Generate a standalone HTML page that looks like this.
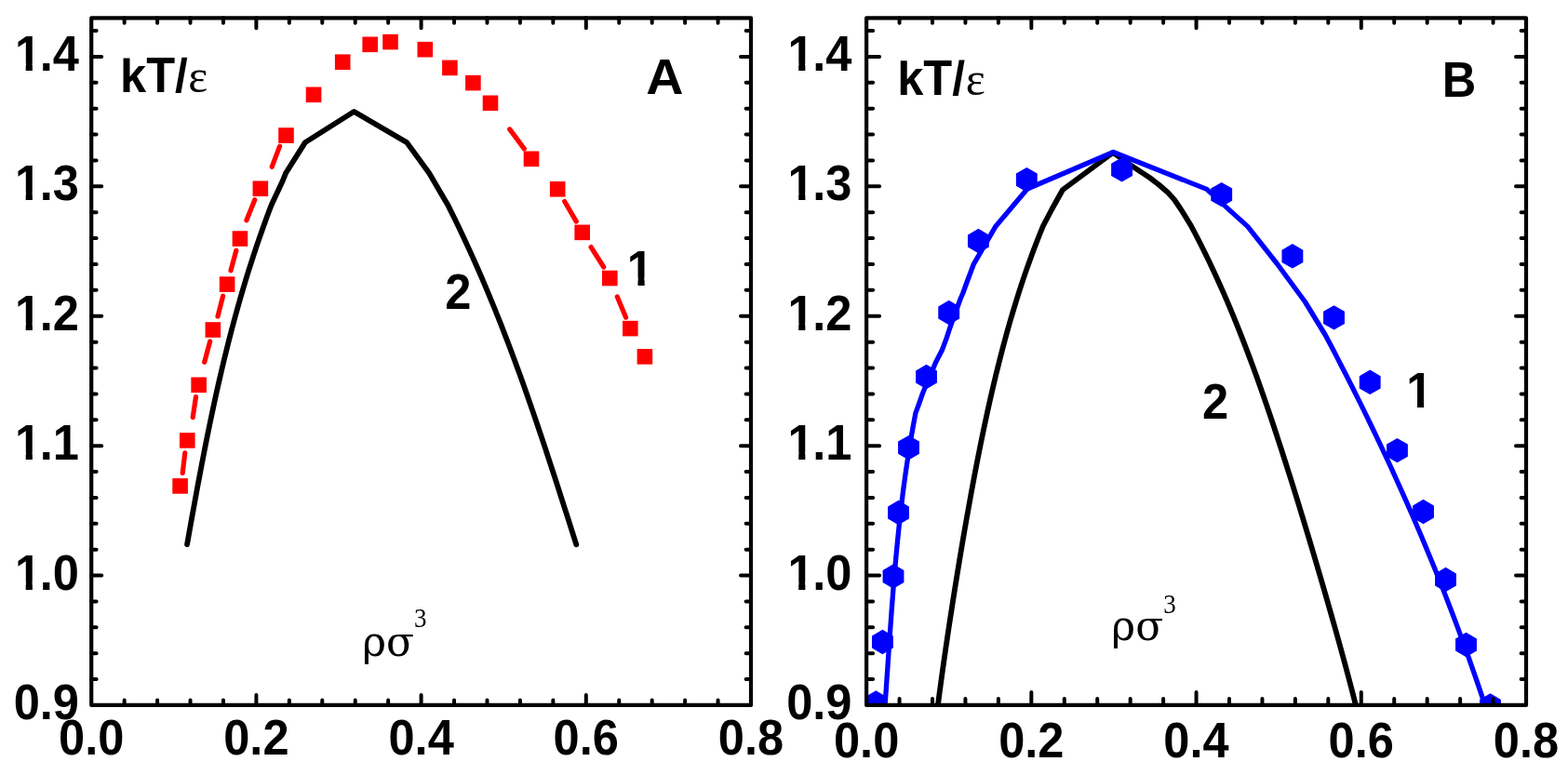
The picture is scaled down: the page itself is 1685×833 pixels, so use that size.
<!DOCTYPE html>
<html><head><meta charset="utf-8"><title>Phase diagrams</title>
<style>html,body{margin:0;padding:0;background:#fff;width:1685px;height:833px;overflow:hidden}svg{display:block}</style>
</head><body>
<svg width="1685" height="833" viewBox="0 0 1685 833">
<defs>
<clipPath id="ca"><rect x="98.2" y="19.35" width="708.8" height="738.6"/></clipPath>
<clipPath id="cb"><rect x="931.1" y="19.35" width="708.9" height="738.6"/></clipPath>
<clipPath id="c1l"><path clip-rule="evenodd" d="M-200 -200H400V200H-200ZM2.9 -8H13.65V2H2.9ZM21.15 -8H31.4V2H21.15Z"/></clipPath>
<clipPath id="c1"><path clip-rule="evenodd" d="M-200 -200H400V200H-200ZM1.5 -8H12.25V2H1.5ZM19.75 -8H30V2H19.75Z"/></clipPath>
<clipPath id="ck"><path clip-rule="evenodd" d="M-200 -200H400V200H-200ZM-5 -70H29.6V-36.6H-5ZM61.8 -70H90V-37.3H61.8Z"/></clipPath>
</defs>
<rect width="1685" height="833" fill="#fff"/>
<g clip-path="url(#ca)">
<path d="M201.04 585.2 L202.46 577.25 L203.88 569.3 L205.31 561.34 L206.75 553.39 L208.19 545.44 L209.64 537.49 L211.1 529.53 L212.58 521.58 L214.07 513.63 L215.57 505.68 L217.09 497.73 L218.63 489.77 L220.18 481.82 L221.76 473.87 L223.36 465.92 L224.98 457.97 L226.63 450.01 L228.31 442.06 L230.01 434.11 L231.74 426.16 L233.51 418.2 L235.3 410.25 L237.13 402.3 L239 394.35 L240.9 386.4 L242.85 378.44 L244.83 370.49 L246.85 362.54 L248.92 354.59 L251.03 346.63 L253.18 338.68 L255.39 330.73 L257.64 322.78 L259.94 314.83 L262.3 306.87 L264.7 298.92 L267.16 290.97 L269.68 283.02 L272.26 275.07 L274.89 267.11 L277.59 259.16 L280.35 251.21 L283.17 243.26 L286.05 235.3 L289.01 227.35 L292.03 219.4 L303.5 195 L307 186.3 L327.9 153.1 L380.5 119.9 L437 152.9 L461.3 186.3 L463.5 190 L478.1 215 L480.8 219.4 L484.78 227.35 L488.69 235.31 L492.55 243.26 L496.34 251.22 L500.06 259.17 L503.73 267.13 L507.35 275.08 L510.9 283.03 L514.4 290.99 L517.85 298.94 L521.24 306.9 L524.59 314.85 L527.89 322.81 L531.14 330.76 L534.34 338.72 L537.5 346.67 L540.62 354.62 L543.7 362.58 L546.73 370.53 L549.73 378.49 L552.7 386.44 L555.62 394.4 L558.52 402.35 L561.38 410.3 L564.21 418.26 L567.01 426.21 L569.79 434.17 L572.54 442.12 L575.26 450.08 L577.96 458.03 L580.64 465.98 L583.3 473.94 L585.95 481.89 L588.57 489.85 L591.18 497.8 L593.78 505.76 L596.36 513.71 L598.94 521.67 L601.5 529.62 L604.06 537.57 L606.61 545.53 L609.15 553.48 L611.69 561.44 L614.23 569.39 L616.77 577.35 L619.32 585.3" fill="none" stroke="#000" stroke-width="5.8" stroke-linejoin="round" stroke-linecap="round"/>
<path d="M196.2 508.5L198.8 486.8M207.2 448.6L210.5 426.5M219.7 389.2L225.7 366.9M234 340.1L239.6 318.2M248 290.8L253.8 269.3M264.9 236.8L273.8 214.8M292.2 179.3L300.6 157.2M547.7 138.9L563.3 159.9M606.7 216.5L619.3 238.1M635.1 265.6L648.7 287M663.3 319L672.6 341.2" fill="none" stroke="#f00" stroke-width="5.2" stroke-linecap="round"/>
<g fill="#f00"><rect x="185.3" y="514.1" width="16.6" height="16.6"/><rect x="192.95" y="465.1" width="16.6" height="16.6"/><rect x="205.35" y="405.45" width="16.6" height="16.6"/><rect x="220.55" y="346.2" width="16.6" height="16.6"/><rect x="235.8" y="297.3" width="16.6" height="16.6"/><rect x="249.65" y="248.25" width="16.6" height="16.6"/><rect x="271.55" y="194.45" width="16.6" height="16.6"/><rect x="299.2" y="137.25" width="16.6" height="16.6"/><rect x="328.75" y="93.5" width="16.6" height="16.6"/><rect x="359.9" y="58.4" width="16.6" height="16.6"/><rect x="389.4" y="39.5" width="16.6" height="16.6"/><rect x="411.2" y="36.8" width="16.6" height="16.6"/><rect x="448.5" y="44.9" width="16.6" height="16.6"/><rect x="475.1" y="64.6" width="16.6" height="16.6"/><rect x="500.1" y="80.8" width="16.6" height="16.6"/><rect x="518.7" y="102.5" width="16.6" height="16.6"/><rect x="562.7" y="162.5" width="16.6" height="16.6"/><rect x="590.9" y="195" width="16.6" height="16.6"/><rect x="617.4" y="241.55" width="16.6" height="16.6"/><rect x="647" y="290.7" width="16.6" height="16.6"/><rect x="669" y="344.8" width="16.6" height="16.6"/><rect x="684.6" y="375" width="16.6" height="16.6"/></g>
</g>
<rect x="98.2" y="19.35" width="708.8" height="738.6" fill="none" stroke="#000" stroke-width="4.2" stroke-linejoin="round"/>
<path d="M133.64 757.95V752.55M133.64 19.35V24.75M169.08 757.95V752.55M169.08 19.35V24.75M204.52 757.95V752.55M204.52 19.35V24.75M239.96 757.95V752.55M239.96 19.35V24.75M275.4 757.95V746.95M275.4 19.35V30.35M310.84 757.95V752.55M310.84 19.35V24.75M346.28 757.95V752.55M346.28 19.35V24.75M381.72 757.95V752.55M381.72 19.35V24.75M417.16 757.95V752.55M417.16 19.35V24.75M452.6 757.95V746.95M452.6 19.35V30.35M488.04 757.95V752.55M488.04 19.35V24.75M523.48 757.95V752.55M523.48 19.35V24.75M558.92 757.95V752.55M558.92 19.35V24.75M594.36 757.95V752.55M594.36 19.35V24.75M629.8 757.95V746.95M629.8 19.35V30.35M665.24 757.95V752.55M665.24 19.35V24.75M700.68 757.95V752.55M700.68 19.35V24.75M736.12 757.95V752.55M736.12 19.35V24.75M771.56 757.95V752.55M771.56 19.35V24.75M98.2 730.07H103.6M807 730.07H801.6M98.2 702.19H103.6M807 702.19H801.6M98.2 674.31H103.6M807 674.31H801.6M98.2 646.43H103.6M807 646.43H801.6M98.2 618.55H109.2M807 618.55H796M98.2 590.67H103.6M807 590.67H801.6M98.2 562.79H103.6M807 562.79H801.6M98.2 534.91H103.6M807 534.91H801.6M98.2 507.03H103.6M807 507.03H801.6M98.2 479.15H109.2M807 479.15H796M98.2 451.27H103.6M807 451.27H801.6M98.2 423.39H103.6M807 423.39H801.6M98.2 395.51H103.6M807 395.51H801.6M98.2 367.63H103.6M807 367.63H801.6M98.2 339.75H109.2M807 339.75H796M98.2 311.87H103.6M807 311.87H801.6M98.2 283.99H103.6M807 283.99H801.6M98.2 256.11H103.6M807 256.11H801.6M98.2 228.23H103.6M807 228.23H801.6M98.2 200.35H109.2M807 200.35H796M98.2 172.47H103.6M807 172.47H801.6M98.2 144.59H103.6M807 144.59H801.6M98.2 116.71H103.6M807 116.71H801.6M98.2 88.83H103.6M807 88.83H801.6M98.2 60.95H109.2M807 60.95H796M98.2 33.07H103.6M807 33.07H801.6" fill="none" stroke="#000" stroke-width="4" stroke-linecap="round"/>
<g font-family="Liberation Sans, Arial, sans-serif" font-weight="bold" font-size="53"><text transform="translate(98.2,810.6) scale(0.955,1)" text-anchor="middle">0.0</text>
<text transform="translate(275.4,810.6) scale(0.955,1)" text-anchor="middle">0.2</text>
<text transform="translate(452.6,810.6) scale(0.955,1)" text-anchor="middle">0.4</text>
<text transform="translate(629.8,810.6) scale(0.955,1)" text-anchor="middle">0.6</text>
<text transform="translate(807,810.6) scale(0.955,1)" text-anchor="middle">0.8</text>
<text transform="translate(14.65,772.95) scale(0.955,1)">0.9</text>
<text transform="translate(14.65,633.55) scale(0.955,1)" clip-path="url(#c1l)"><tspan dx="1.4">1</tspan><tspan dx="-1.4">.0</tspan></text>
<text transform="translate(14.65,494.15) scale(0.955,1)" clip-path="url(#c1l)"><tspan dx="1.4">1</tspan><tspan dx="-1.4">.1</tspan></text>
<text transform="translate(14.65,354.75) scale(0.955,1)" clip-path="url(#c1l)"><tspan dx="1.4">1</tspan><tspan dx="-1.4">.2</tspan></text>
<text transform="translate(14.65,215.35) scale(0.955,1)" clip-path="url(#c1l)"><tspan dx="1.4">1</tspan><tspan dx="-1.4">.3</tspan></text>
<text transform="translate(14.65,75.95) scale(0.955,1)" clip-path="url(#c1l)"><tspan dx="1.4">1</tspan><tspan dx="-1.4">.4</tspan></text></g>
<g clip-path="url(#cb)">
<path d="M1007.35 762 L1008.39 754.02 L1009.44 746.03 L1010.52 738.05 L1011.61 730.06 L1012.72 722.08 L1013.85 714.09 L1014.99 706.11 L1016.14 698.12 L1017.32 690.14 L1018.5 682.15 L1019.7 674.17 L1020.91 666.18 L1022.14 658.2 L1023.38 650.22 L1024.63 642.23 L1025.9 634.25 L1027.17 626.26 L1028.46 618.28 L1029.77 610.29 L1031.08 602.31 L1032.41 594.32 L1033.76 586.34 L1035.11 578.35 L1036.49 570.37 L1037.87 562.38 L1039.28 554.4 L1040.7 546.42 L1042.14 538.43 L1043.59 530.45 L1045.07 522.46 L1046.56 514.48 L1048.08 506.49 L1049.62 498.51 L1051.18 490.52 L1052.77 482.54 L1054.38 474.55 L1056.02 466.57 L1057.69 458.58 L1059.39 450.6 L1061.12 442.62 L1062.89 434.63 L1064.69 426.65 L1066.53 418.66 L1068.4 410.68 L1070.32 402.69 L1072.28 394.71 L1074.29 386.72 L1076.34 378.74 L1078.44 370.75 L1080.6 362.77 L1082.8 354.78 L1085.07 346.8 L1087.39 338.82 L1089.78 330.83 L1092.23 322.85 L1094.74 314.86 L1097.33 306.88 L1099.98 298.89 L1102.72 290.91 L1105.53 282.92 L1108.42 274.94 L1111.4 266.95 L1114.46 258.97 L1117.62 250.98 L1120.87 243 L1130.3 225 L1142 204 L1196 164 L1217.4 179 L1225 184.1 L1235 190.6 L1245 198.2 L1255 206.9 L1262 214.6 L1270.3 227 L1279.81 242.5 L1284.05 250.49 L1288.18 258.48 L1292.23 266.48 L1296.17 274.47 L1300.03 282.46 L1303.8 290.45 L1307.49 298.45 L1311.1 306.44 L1314.64 314.43 L1318.1 322.42 L1321.49 330.42 L1324.82 338.41 L1328.09 346.4 L1331.3 354.39 L1334.45 362.38 L1337.55 370.38 L1340.6 378.37 L1343.6 386.36 L1346.55 394.35 L1349.46 402.35 L1352.33 410.34 L1355.16 418.33 L1357.96 426.32 L1360.72 434.32 L1363.45 442.31 L1366.15 450.3 L1368.82 458.29 L1371.47 466.28 L1374.09 474.28 L1376.69 482.27 L1379.26 490.26 L1381.82 498.25 L1384.35 506.25 L1386.87 514.24 L1389.37 522.23 L1391.85 530.22 L1394.32 538.22 L1396.78 546.21 L1399.22 554.2 L1401.65 562.19 L1404.06 570.18 L1406.47 578.18 L1408.86 586.17 L1411.24 594.16 L1413.6 602.15 L1415.96 610.15 L1418.31 618.14 L1420.64 626.13 L1422.96 634.12 L1425.27 642.12 L1427.57 650.11 L1429.85 658.1 L1432.12 666.09 L1434.38 674.08 L1436.62 682.08 L1438.84 690.07 L1441.05 698.06 L1443.24 706.05 L1445.41 714.05 L1447.56 722.04 L1449.68 730.03 L1451.79 738.02 L1453.87 746.02 L1455.92 754.01 L1457.94 762" fill="none" stroke="#000" stroke-width="5.8" stroke-linejoin="round"/>
<g fill="#00f"><polygon points="941.3,742.3 952.73,748.9 952.73,762.1 941.3,768.7 929.87,762.1 929.87,748.9"/><polygon points="948.4,676.8 959.83,683.4 959.83,696.6 948.4,703.2 936.97,696.6 936.97,683.4"/><polygon points="960,606.3 971.43,612.9 971.43,626.1 960,632.7 948.57,626.1 948.57,612.9"/><polygon points="965.5,537.8 976.93,544.4 976.93,557.6 965.5,564.2 954.07,557.6 954.07,544.4"/><polygon points="976.5,468 987.93,474.6 987.93,487.8 976.5,494.4 965.07,487.8 965.07,474.6"/><polygon points="995.5,391.8 1006.93,398.4 1006.93,411.6 995.5,418.2 984.07,411.6 984.07,398.4"/><polygon points="1019.7,322.8 1031.13,329.4 1031.13,342.6 1019.7,349.2 1008.27,342.6 1008.27,329.4"/><polygon points="1051.4,245.8 1062.83,252.4 1062.83,265.6 1051.4,272.2 1039.97,265.6 1039.97,252.4"/><polygon points="1103.3,180 1114.73,186.6 1114.73,199.8 1103.3,206.4 1091.87,199.8 1091.87,186.6"/><polygon points="1205.55,169.2 1216.98,175.8 1216.98,189 1205.55,195.6 1194.12,189 1194.12,175.8"/><polygon points="1312.7,195.9 1324.13,202.5 1324.13,215.7 1312.7,222.3 1301.27,215.7 1301.27,202.5"/><polygon points="1388.9,262.1 1400.33,268.7 1400.33,281.9 1388.9,288.5 1377.47,281.9 1377.47,268.7"/><polygon points="1433.5,328.2 1444.93,334.8 1444.93,348 1433.5,354.6 1422.07,348 1422.07,334.8"/><polygon points="1472.2,397.6 1483.63,404.2 1483.63,417.4 1472.2,424 1460.77,417.4 1460.77,404.2"/><polygon points="1501.45,470.9 1512.88,477.5 1512.88,490.7 1501.45,497.3 1490.02,490.7 1490.02,477.5"/><polygon points="1529.5,536.8 1540.93,543.4 1540.93,556.6 1529.5,563.2 1518.07,556.6 1518.07,543.4"/><polygon points="1553.5,609.8 1564.93,616.4 1564.93,629.6 1553.5,636.2 1542.07,629.6 1542.07,616.4"/><polygon points="1575.5,679.8 1586.93,686.4 1586.93,699.6 1575.5,706.2 1564.07,699.6 1564.07,686.4"/><polygon points="1601.5,745.3 1612.93,751.9 1612.93,765.1 1601.5,771.7 1590.07,765.1 1590.07,751.9"/></g>
<path d="M950.77 762 L951.34 754.04 L951.9 746.08 L952.45 738.12 L953 730.16 L953.54 722.2 L954.09 714.24 L954.63 706.28 L955.17 698.32 L955.72 690.36 L956.28 682.4 L956.84 674.44 L957.41 666.48 L957.99 658.52 L958.58 650.56 L959.19 642.6 L959.81 634.64 L960.45 626.68 L961.11 618.72 L961.79 610.76 L962.49 602.8 L963.22 594.84 L963.97 586.88 L964.76 578.92 L965.57 570.96 L966.41 563 L967.29 555.04 L968.2 547.08 L969.15 539.12 L970.13 531.16 L971.16 523.2 L972.23 515.24 L973.34 507.28 L974.5 499.32 L975.7 491.36 L976.96 483.4 L978.26 475.44 L979.62 467.48 L981.03 459.52 L982.49 451.56 L984.02 443.6 L987.6 434 L991.8 422 L1001 400.5 L1005.3 390 L1012.5 376 L1017.2 363.4 L1020.9 352 L1032 321.5 L1034.8 315 L1039.9 301 L1046.2 284.2 L1070 243.2 L1104 203 L1196.4 163.5 L1296.8 203.4 L1321 225.6 L1340.7 243.4 L1372 283 L1402.5 324.5 L1424.18 360 L1428.42 368.04 L1432.64 376.08 L1436.82 384.12 L1440.98 392.16 L1445.1 400.2 L1449.19 408.24 L1453.24 416.28 L1457.27 424.32 L1461.26 432.36 L1465.23 440.4 L1469.16 448.44 L1473.06 456.48 L1476.92 464.52 L1480.76 472.56 L1484.56 480.6 L1488.33 488.64 L1492.07 496.68 L1495.78 504.72 L1499.46 512.76 L1503.1 520.8 L1506.71 528.84 L1510.29 536.88 L1513.83 544.92 L1517.34 552.96 L1520.82 561 L1524.27 569.04 L1527.69 577.08 L1531.07 585.12 L1534.42 593.16 L1537.73 601.2 L1541.02 609.24 L1544.27 617.28 L1547.49 625.32 L1550.67 633.36 L1553.82 641.4 L1556.94 649.44 L1560.03 657.48 L1563.08 665.52 L1566.1 673.56 L1569.08 681.6 L1572.03 689.64 L1574.95 697.68 L1577.84 705.72 L1580.69 713.76 L1583.51 721.8 L1586.29 729.84 L1589.04 737.88 L1591.76 745.92 L1594.44 753.96 L1597.09 762" fill="none" stroke="#00f" stroke-width="5.3" stroke-linejoin="round"/>
</g>
<rect x="931.1" y="19.35" width="708.9" height="738.6" fill="none" stroke="#000" stroke-width="4.2" stroke-linejoin="round"/>
<path d="M966.55 757.95V750.95M966.55 19.35V24.75M1001.99 757.95V750.95M1001.99 19.35V24.75M1037.43 757.95V750.95M1037.43 19.35V24.75M1072.88 757.95V750.95M1072.88 19.35V24.75M1108.33 757.95V743.95M1108.33 19.35V30.35M1143.77 757.95V750.95M1143.77 19.35V24.75M1179.22 757.95V750.95M1179.22 19.35V24.75M1214.66 757.95V750.95M1214.66 19.35V24.75M1250.11 757.95V750.95M1250.11 19.35V24.75M1285.55 757.95V743.95M1285.55 19.35V30.35M1320.99 757.95V750.95M1320.99 19.35V24.75M1356.44 757.95V750.95M1356.44 19.35V24.75M1391.88 757.95V750.95M1391.88 19.35V24.75M1427.33 757.95V750.95M1427.33 19.35V24.75M1462.78 757.95V743.95M1462.78 19.35V30.35M1498.22 757.95V750.95M1498.22 19.35V24.75M1533.66 757.95V750.95M1533.66 19.35V24.75M1569.11 757.95V750.95M1569.11 19.35V24.75M1604.55 757.95V750.95M1604.55 19.35V24.75M931.1 730.07H938.1M1640 730.07H1634.6M931.1 702.19H938.1M1640 702.19H1634.6M931.1 674.31H938.1M1640 674.31H1634.6M931.1 646.43H938.1M1640 646.43H1634.6M931.1 618.55H945.1M1640 618.55H1629M931.1 590.67H938.1M1640 590.67H1634.6M931.1 562.79H938.1M1640 562.79H1634.6M931.1 534.91H938.1M1640 534.91H1634.6M931.1 507.03H938.1M1640 507.03H1634.6M931.1 479.15H945.1M1640 479.15H1629M931.1 451.27H938.1M1640 451.27H1634.6M931.1 423.39H938.1M1640 423.39H1634.6M931.1 395.51H938.1M1640 395.51H1634.6M931.1 367.63H938.1M1640 367.63H1634.6M931.1 339.75H945.1M1640 339.75H1629M931.1 311.87H938.1M1640 311.87H1634.6M931.1 283.99H938.1M1640 283.99H1634.6M931.1 256.11H938.1M1640 256.11H1634.6M931.1 228.23H938.1M1640 228.23H1634.6M931.1 200.35H945.1M1640 200.35H1629M931.1 172.47H938.1M1640 172.47H1634.6M931.1 144.59H938.1M1640 144.59H1634.6M931.1 116.71H938.1M1640 116.71H1634.6M931.1 88.83H938.1M1640 88.83H1634.6M931.1 60.95H945.1M1640 60.95H1629M931.1 33.07H938.1M1640 33.07H1634.6" fill="none" stroke="#000" stroke-width="4" stroke-linecap="round"/>
<g font-family="Liberation Sans, Arial, sans-serif" font-weight="bold" font-size="53"><text transform="translate(931.1,813.9) scale(0.955,1)" text-anchor="middle">0.0</text>
<text transform="translate(1108.33,813.9) scale(0.955,1)" text-anchor="middle">0.2</text>
<text transform="translate(1285.55,813.9) scale(0.955,1)" text-anchor="middle">0.4</text>
<text transform="translate(1462.78,813.9) scale(0.955,1)" text-anchor="middle">0.6</text>
<text transform="translate(1640,813.9) scale(0.955,1)" text-anchor="middle">0.8</text>
<text transform="translate(845.15,772.95) scale(0.955,1)">0.9</text>
<text transform="translate(845.15,633.55) scale(0.955,1)" clip-path="url(#c1l)"><tspan dx="1.4">1</tspan><tspan dx="-1.4">.0</tspan></text>
<text transform="translate(845.15,494.15) scale(0.955,1)" clip-path="url(#c1l)"><tspan dx="1.4">1</tspan><tspan dx="-1.4">.1</tspan></text>
<text transform="translate(845.15,354.75) scale(0.955,1)" clip-path="url(#c1l)"><tspan dx="1.4">1</tspan><tspan dx="-1.4">.2</tspan></text>
<text transform="translate(845.15,215.35) scale(0.955,1)" clip-path="url(#c1l)"><tspan dx="1.4">1</tspan><tspan dx="-1.4">.3</tspan></text>
<text transform="translate(845.15,75.95) scale(0.955,1)" clip-path="url(#c1l)"><tspan dx="1.4">1</tspan><tspan dx="-1.4">.4</tspan></text></g>
<text clip-path="url(#ck)" transform="translate(129,99) scale(0.955,1)" font-family="Liberation Sans, Arial, sans-serif" font-weight="bold" font-size="53">kT/</text>
<text transform="translate(202.3,99) scale(1,1)" font-family="Liberation Serif, serif" font-size="50">ε</text>
<text transform="translate(694.3,100.5) scale(1.05,1)" font-family="Liberation Sans, Arial, sans-serif" font-weight="bold" font-size="53">A</text>
<text clip-path="url(#c1)" transform="translate(673.8,306.5) scale(0.955,1)" font-family="Liberation Sans, Arial, sans-serif" font-weight="bold" font-size="53">1</text>
<text transform="translate(478.2,332) scale(0.955,1)" font-family="Liberation Sans, Arial, sans-serif" font-weight="bold" font-size="53">2</text>
<text transform="translate(389.2,704.5) scale(1,1)" font-family="DejaVu Serif, serif" font-size="44">ρσ</text>
<text transform="translate(444.9,674.4) scale(0.9,1)" font-family="Liberation Serif, serif" font-size="30">3</text>
<text clip-path="url(#ck)" transform="translate(964.2,101.9) scale(0.955,1)" font-family="Liberation Sans, Arial, sans-serif" font-weight="bold" font-size="53">kT/</text>
<text transform="translate(1037.7,102) scale(1,1)" font-family="Liberation Serif, serif" font-size="50">ε</text>
<text transform="translate(1549.7,103.6) scale(0.955,1)" font-family="Liberation Sans, Arial, sans-serif" font-weight="bold" font-size="53">B</text>
<text clip-path="url(#c1)" transform="translate(1511.3,438.4) scale(0.955,1)" font-family="Liberation Sans, Arial, sans-serif" font-weight="bold" font-size="53">1</text>
<text transform="translate(1291.9,450) scale(0.955,1)" font-family="Liberation Sans, Arial, sans-serif" font-weight="bold" font-size="53">2</text>
<text transform="translate(1194.3,687.8) scale(1,1)" font-family="DejaVu Serif, serif" font-size="44">ρσ</text>
<text transform="translate(1250.3,658.6) scale(0.9,1)" font-family="Liberation Serif, serif" font-size="30">3</text>
</svg>
</body></html>
